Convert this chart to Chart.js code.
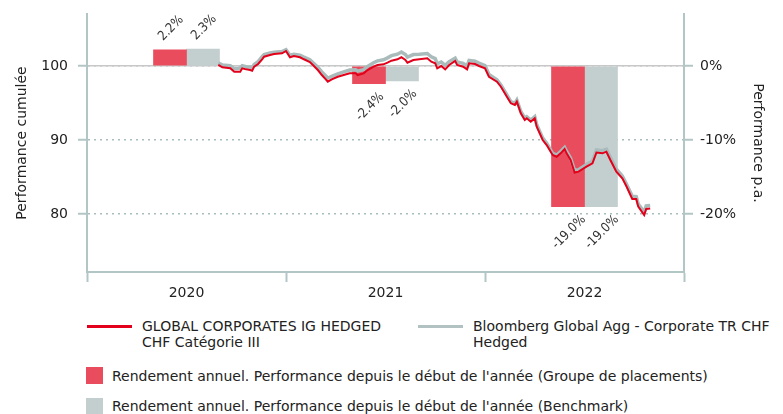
<!DOCTYPE html>
<html>
<head>
<meta charset="utf-8">
<script src="https://cdn.jsdelivr.net/npm/chart.js@4/dist/chart.umd.min.js"></script>
<style>
    body { margin: 0; background: #fff; }
    #wrap { position: relative; width: 783px; height: 414px; font-family: 'DejaVu Sans', 'Liberation Sans', sans-serif; color: #222; }
    #chartBox { position: absolute; left: 0; top: 0; width: 783px; height: 300px; }
    .lg { position: absolute; font-size: 14px; line-height: 16px; white-space: nowrap; }
    .sw { position: absolute; }
</style>
</head>
<body>
<div id="wrap">
    <div id="chartBox"><canvas id="c" width="783" height="300"></canvas></div>

    <div class="sw" style="left:87px; top:325px; width:45px; height:3px; background:#E2001A;"></div>
    <div class="lg" style="left:142px; top:318px;">GLOBAL CORPORATES IG HEDGED<br>CHF Catégorie III</div>
    <div class="sw" style="left:418px; top:325px; width:45px; height:3px; background:#B2C2C2;"></div>
    <div class="lg" style="left:473px; top:318px;">Bloomberg Global Agg - Corporate TR CHF<br>Hedged</div>

    <div class="sw" style="left:86px; top:367px; width:17px; height:17px; background:#E94C5C;"></div>
    <div class="lg" style="left:112px; top:368px;">Rendement annuel. Performance depuis le début de l'année (Groupe de placements)</div>
    <div class="sw" style="left:86px; top:398px; width:17px; height:16px; background:#C3CFCF;"></div>
    <div class="lg" style="left:112px; top:398px;">Rendement annuel. Performance depuis le début de l'année (Benchmark)</div>
</div>

<script>
// categories and annual returns (right axis, %)
const years = ['2020', '2021', '2022'];
const fundAnnual = [2.2, -2.4, -19.0];
const benchAnnual = [2.3, -2.0, -19.0];

// tick labels
const leftTicks = [80, 90, 100];
const rightTicks = [-20, -10, 0];

// cumulative performance, time in fractional years
const perfDates = [
    2020.66, 2020.68, 2020.72, 2020.74, 2020.77, 2020.78, 2020.80, 2020.82, 2020.83, 2020.84,
    2020.86, 2020.88, 2020.89, 2020.92, 2020.94, 2020.98, 2021.00, 2021.02, 2021.04, 2021.07,
    2021.09, 2021.12, 2021.14, 2021.16, 2021.18, 2021.20, 2021.21, 2021.23, 2021.26, 2021.29,
    2021.32, 2021.35, 2021.36, 2021.39, 2021.41, 2021.44, 2021.46, 2021.49, 2021.51, 2021.53,
    2021.56, 2021.58, 2021.60, 2021.61, 2021.64, 2021.67, 2021.71, 2021.73, 2021.75, 2021.76,
    2021.78, 2021.80, 2021.82, 2021.85, 2021.86, 2021.89, 2021.91, 2021.92, 2021.95, 2021.97,
    2022.00, 2022.02, 2022.06, 2022.08, 2022.11, 2022.13, 2022.15, 2022.16, 2022.18, 2022.20,
    2022.21, 2022.23, 2022.25, 2022.26, 2022.29, 2022.31, 2022.34, 2022.36, 2022.38, 2022.40,
    2022.41, 2022.43, 2022.45, 2022.47, 2022.51, 2022.54, 2022.56, 2022.59, 2022.61, 2022.63,
    2022.66, 2022.69, 2022.71, 2022.74, 2022.76, 2022.77, 2022.80, 2022.81, 2022.83
];
const fundPerf = [
    100.14, 99.82, 99.69, 99.23, 99.23, 99.69, 99.55, 99.46, 99.36, 99.91,
    100.27, 100.91, 101.26, 101.49, 101.62, 101.72, 102.03, 101.18, 101.35, 101.18,
    100.91, 100.54, 100.00, 99.46, 98.78, 98.20, 97.88, 98.20, 98.55, 98.78,
    99.01, 99.01, 98.78, 99.01, 99.46, 99.91, 100.14, 100.23, 100.45, 100.72,
    100.91, 101.18, 100.81, 100.45, 100.81, 100.91, 101.04, 100.58, 100.36, 99.69,
    100.00, 99.55, 100.14, 100.68, 100.14, 99.91, 99.55, 100.36, 100.27, 100.00,
    99.69, 98.55, 97.88, 97.20, 95.85, 94.96, 94.73, 95.18, 93.61, 92.70,
    92.93, 92.47, 92.93, 91.80, 90.00, 89.32, 87.97, 87.74, 88.20, 88.78,
    88.20, 87.30, 85.61, 85.72, 86.39, 86.85, 88.31, 88.20, 88.42, 87.30,
    85.72, 84.82, 83.78, 82.03, 82.03, 80.99, 79.86, 80.68, 80.74
];
const benchPerf = [
    100.40, 100.15, 100.05, 99.65, 99.70, 100.05, 99.90, 99.85, 99.75, 100.20,
    100.60, 101.25, 101.55, 101.75, 101.85, 101.95, 102.20, 101.45, 101.60, 101.45,
    101.20, 100.85, 100.35, 99.85, 99.20, 98.65, 98.35, 98.60, 98.95, 99.20,
    99.45, 99.50, 99.30, 99.50, 99.95, 100.45, 100.70, 100.85, 101.10, 101.40,
    101.60, 101.90, 101.55, 101.20, 101.55, 101.60, 101.70, 101.25, 101.00, 100.30,
    100.55, 100.10, 100.60, 101.05, 100.55, 100.35, 100.00, 100.75, 100.65, 100.40,
    100.05, 98.85, 98.15, 97.45, 96.10, 95.20, 94.95, 95.40, 93.85, 92.95,
    93.15, 92.70, 93.15, 92.05, 90.25, 89.55, 88.20, 87.95, 88.45, 89.00,
    88.45, 87.55, 85.90, 86.00, 86.70, 87.15, 88.65, 88.55, 88.75, 87.65,
    86.05, 85.15, 84.10, 82.40, 82.35, 81.35, 80.25, 81.10, 81.15
];

const FONT = "'DejaVu Sans', 'Liberation Sans', sans-serif";
const LABEL_FONT = "'DejaVu Sans Condensed', 'DejaVu Sans', sans-serif";
const axisColor = '#B3C6C6';
const textColor = '#222222';

const toPoints = (vals) => vals.map((v, i) => ({ x: perfDates[i], y: v }));

// rotated value labels on the bars
const barLabels = {
    id: 'barLabels',
    afterDatasetsDraw(chart) {
        const ctx = chart.ctx;
        ctx.save();
        ctx.font = '13px ' + LABEL_FONT;
        ctx.fillStyle = '#333';
        ctx.textAlign = 'center';
        ctx.textBaseline = 'middle';
        chart.data.datasets.forEach((ds, di) => {
            if (ds.type !== 'bar') return;
            chart.getDatasetMeta(di).data.forEach((el, i) => {
                const v = ds.data[i];
                const txt = v.toFixed(1) + '%';
                const w = ctx.measureText(txt).width;
                const d = w * 0.354 + 11;
                const y = v >= 0 ? el.y - d : el.y + d;
                ctx.save();
                ctx.translate(el.x + 1, y);
                ctx.rotate(-Math.PI / 4);
                ctx.fillText(txt, 0, 0);
                ctx.restore();
            });
        });
        ctx.restore();
    }
};

// fixed axis box sizes, no label overhang padding
const fixY = (w) => (s) => { s.width = w; s.paddingTop = 0; s.paddingBottom = 0; };

new Chart(document.getElementById('c'), {
    type: 'bar',
    data: {
        labels: years,
        datasets: [
            {
                type: 'line', label: 'GLOBAL CORPORATES IG HEDGED CHF Catégorie III',
                data: toPoints(fundPerf), xAxisID: 'xt', yAxisID: 'y',
                borderColor: '#E2001A', borderWidth: 2, pointRadius: 0, tension: 0, order: 0
            },
            {
                type: 'line', label: 'Bloomberg Global Agg - Corporate TR CHF Hedged',
                data: toPoints(benchPerf), xAxisID: 'xt', yAxisID: 'y',
                borderColor: '#AABBBB', borderWidth: 3.5, pointRadius: 0, tension: 0, order: 1
            },
            {
                type: 'bar', label: 'Groupe de placements', data: fundAnnual,
                xAxisID: 'x', yAxisID: 'y1', backgroundColor: '#E94C5C', barThickness: 33, order: 2
            },
            {
                type: 'bar', label: 'Benchmark', data: benchAnnual,
                xAxisID: 'x', yAxisID: 'y1', backgroundColor: '#C3CFCF', barThickness: 33, order: 3
            }
        ]
    },
    options: {
        responsive: false,
        animation: false,
        layout: { padding: { top: 14, left: 0, right: 0, bottom: 0 } },
        plugins: { legend: { display: false }, tooltip: { enabled: false } },
        scales: {
            x: {
                type: 'category',
                offset: true,
                grid: { offset: true, drawOnChartArea: false, tickLength: 10, tickColor: axisColor, tickWidth: 2 },
                border: { color: axisColor, width: 2 },
                ticks: { color: textColor, font: { family: FONT, size: 14 }, padding: 3 },
                afterFit: (s) => { s.height = 28; s.paddingLeft = 0; s.paddingRight = 0; }
            },
            xt: {
                type: 'linear', display: false, offset: false, min: 2020, max: 2023,
                grid: { offset: false }
            },
            y: {
                position: 'left',
                min: 72.16, max: 107.03,
                afterBuildTicks: (s) => { s.ticks = leftTicks.map(v => ({ value: v })); },
                grid: { color: '#A9BDBD', lineWidth: 1.5, tickLength: 9, tickColor: axisColor, tickWidth: 2, tickBorderDash: [] },
                border: { color: axisColor, width: 2, dash: [2, 4] },
                ticks: { color: textColor, font: { family: FONT, size: 14 }, padding: 10 },
                title: { display: true, text: 'Performance cumulée', color: textColor, font: { family: FONT, size: 14 }, padding: { top: 14, bottom: 0 } },
                afterFit: fixY(87)
            },
            y1: {
                position: 'right',
                min: -27.84, max: 7.03,
                afterBuildTicks: (s) => { s.ticks = rightTicks.map(v => ({ value: v })); },
                grid: {
                    color: (c) => c.tick && c.tick.value === 0 ? '#C8C8C8' : 'rgba(0,0,0,0)',
                    lineWidth: 1.5, tickLength: 9, tickColor: axisColor, tickWidth: 2
                },
                border: { color: axisColor, width: 2 },
                ticks: { color: textColor, font: { family: FONT, size: 14 }, padding: 7, callback: (v) => v + '%' },
                title: { display: true, text: 'Performance p.a.', color: textColor, font: { family: FONT, size: 14 }, padding: { top: 17, bottom: 0 } },
                afterFit: fixY(99)
            }
        }
    },
    plugins: [barLabels]
});
</script>
</body>
</html>
